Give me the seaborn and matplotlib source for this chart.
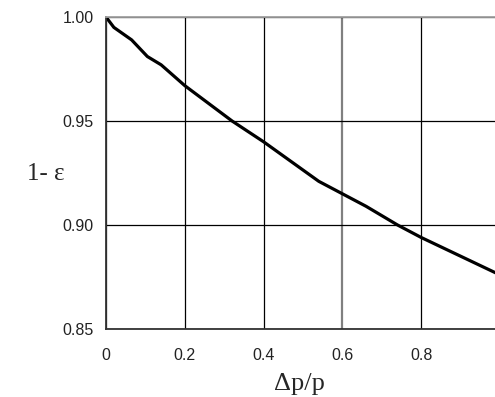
import matplotlib
matplotlib.use("Agg")
import matplotlib.pyplot as plt
import seaborn as sns
import pandas as pd

# --- данные ---
dp_p = [0, 0.02, 0.065, 0.105, 0.14, 0.2, 0.32, 0.4, 0.54, 0.6, 0.66, 0.74, 0.8, 1.0]
one_minus_eps = [1.0, 0.995, 0.989, 0.981, 0.977, 0.967, 0.950, 0.940, 0.921,
                 0.915, 0.909, 0.900, 0.894, 0.876]
x_ticks = [0, 0.2, 0.4, 0.6, 0.8]
x_tick_labels = ["0", "0.2", "0.4", "0.6", "0.8"]
y_ticks = [0.85, 0.90, 0.95, 1.00]
y_tick_labels = ["0.85", "0.90", "0.95", "1.00"]

df = pd.DataFrame({"dp": dp_p, "eps": one_minus_eps})

sns.set_theme(style="white")
plt.rcParams["font.family"] = ["Liberation Sans", "DejaVu Sans"]

fig = plt.figure(figsize=(4.95, 3.97), dpi=100)
ax = fig.add_axes([106 / 495, 68 / 397, 394 / 495, 312 / 397])

sns.lineplot(data=df, x="dp", y="eps", ax=ax, color="black", linewidth=2.3)

ax.set_xlim(0, 1.0)
ax.set_ylim(0.85, 1.0)
ax.set_xticks(x_ticks)
ax.set_xticklabels(x_tick_labels, fontsize=11.5, color="#222222")
ax.set_yticks(y_ticks)
ax.set_yticklabels(y_tick_labels, fontsize=11.5, color="#222222")
ax.tick_params(axis="both", length=0)
ax.tick_params(axis="x", pad=14)
ax.tick_params(axis="y", pad=9)

ax.grid(True, color="black", linewidth=0.9)
ax.get_xgridlines()[3].set_color("#808080")
ax.get_xgridlines()[3].set_linewidth(1.6)
ax.set_axisbelow(True)

ax.spines["left"].set_color("#333333")
ax.spines["bottom"].set_color("#333333")
ax.spines["left"].set_linewidth(1.3)
ax.spines["bottom"].set_linewidth(1.3)
ax.spines["top"].set_color("#a0a0a0")
ax.spines["top"].set_linewidth(1.3)
ax.spines["right"].set_visible(False)

serif = ["Liberation Serif", "DejaVu Serif"]
ax.set_xlabel("Δp/p", fontsize=19, family=serif, va="baseline")
ax.xaxis.set_label_coords(0.49, -0.196)
ax.set_ylabel("1- ε", fontsize=18, family=serif, rotation=0, va="baseline", ha="center")
ax.yaxis.set_label_coords(-0.152, 0.478)

fig.savefig("out.png", dpi=100)
